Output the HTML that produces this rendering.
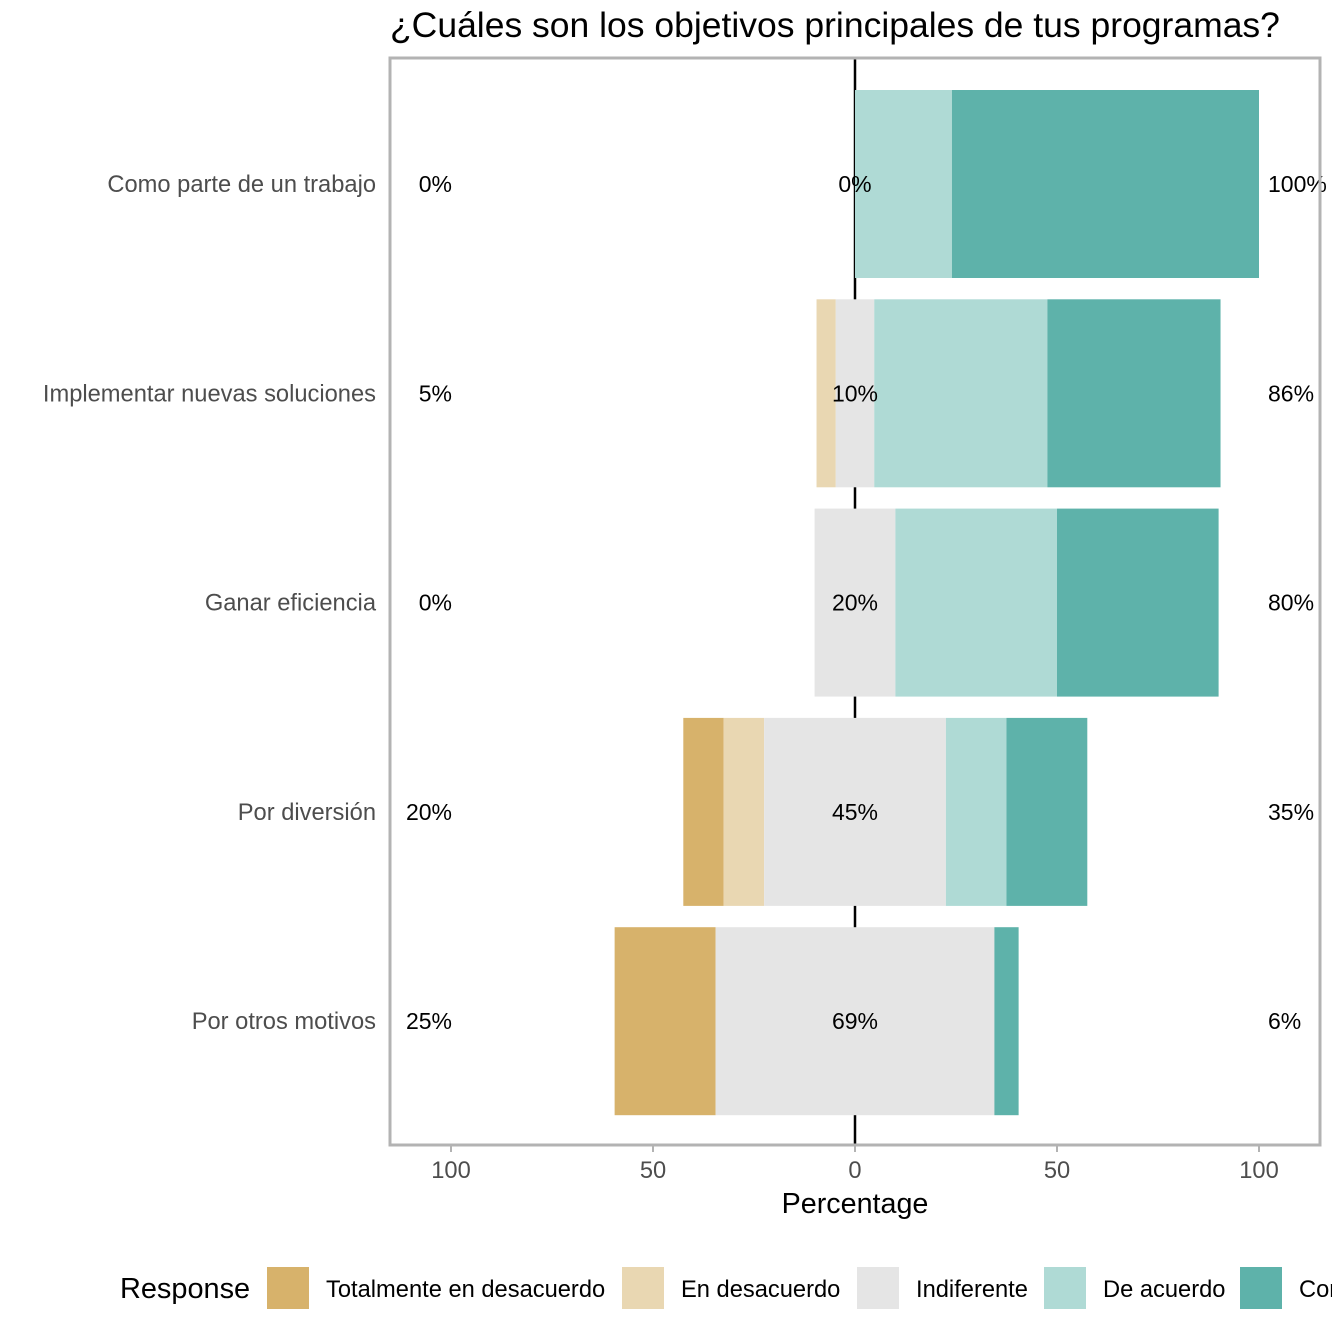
<!DOCTYPE html>
<html><head><meta charset="utf-8"><style>
body{margin:0;background:#fff;font-family:"Liberation Sans",sans-serif;}
svg{display:block}
</style></head><body>
<svg id="chart" width="1332" height="1329" viewBox="0 0 1332 1329">
<text x="390" y="37" font-size="35.5" fill="#000">¿Cuáles son los objetivos principales de tus programas?</text>
<g id="plot"></g>
</svg>
<script>
const categories=["Como parte de un trabajo","Implementar nuevas soluciones","Ganar eficiencia","Por diversión","Por otros motivos"];
const levels=["Totalmente en desacuerdo","En desacuerdo","Indiferente","De acuerdo","Completamente de acuerdo"];
const totDesac=[0,0,0,10,25];
const desac=[0,4.76,0,10,0];
const indif=[0,9.52,20,45,69];
const deAc=[24,42.86,40,15,0];
const totAc=[76,42.86,40,20,6];
const leftLabels=["0%","5%","0%","20%","25%"];
const midLabels=["0%","10%","20%","45%","69%"];
const rightLabels=["100%","86%","80%","35%","6%"];
const ticks=[-100,-50,0,50,100];
const colors=["#D7B26B","#E9D7B2","#E5E5E5","#AFDAD5","#5EB2AA"];
const NS="http://www.w3.org/2000/svg";
const g=document.getElementById('plot');
const PL=390,PR=1320,PT=58,PB=1145;
const x=v=>855+v*4.04;
const rowC=i=>184+i*209.3;
const BH=188;
function mk(t,a){const e=document.createElementNS(NS,t);for(const k in a)e.setAttribute(k,a[k]);g.appendChild(e);return e;}
ticks.concat([-75,-25,25,75]).forEach(t=>{const l=mk('line',{x1:x(t),x2:x(t),y1:PT,y2:PB,stroke:'#fff','stroke-width':1.5});
});
const z=mk('line',{x1:x(0),x2:x(0),y1:PT,y2:PB,stroke:'#000','stroke-width':2.5});

categories.forEach((c,i)=>{
  const vals=[totDesac[i],desac[i],indif[i],deAc[i],totAc[i]];
  let start=-(vals[0]+vals[1]+vals[2]/2);
  vals.forEach((v,j)=>{
    if(v>0){const r=mk('rect',{x:x(start),y:rowC(i)-BH/2,width:v*4.04,height:BH,fill:colors[j]});
    }
    start+=v;
  });
  const yl=mk('text',{x:376,y:rowC(i)+8,'font-size':23.7,fill:'#4d4d4d','text-anchor':'end'});yl.textContent=c;
  
  [[452,leftLabels[i],'end'],[855,midLabels[i],'middle'],[1268,rightLabels[i],'start']].forEach(([xx,s,a])=>{
    const t=mk('text',{x:xx,y:rowC(i)+8,'font-size':23,fill:'#000','text-anchor':a});t.textContent=s;
    });
});
const fr=mk('rect',{x:PL,y:PT,width:PR-PL,height:PB-PT,fill:'none',stroke:'#b3b3b3','stroke-width':3});

ticks.forEach(t=>{
  const l=mk('line',{x1:x(t),x2:x(t),y1:PB,y2:PB+7,stroke:'#b3b3b3','stroke-width':2});
  
  const tx=mk('text',{x:x(t),y:PB+33,'font-size':23.7,fill:'#4d4d4d','text-anchor':'middle'});tx.textContent=Math.abs(t);
  
});
const xt=mk('text',{x:855,y:1213,'font-size':28.7,fill:'#000','text-anchor':'middle'});xt.textContent='Percentage';

const lt=mk('text',{x:120,y:1298,'font-size':28.9,fill:'#000'});lt.textContent='Response';

const lx=[267,622,857,1044,1240];
levels.forEach((s,j)=>{
  const r=mk('rect',{x:lx[j],y:1267,width:42,height:42,fill:colors[j]});
  
  const t=mk('text',{x:lx[j]+59,y:1297,'font-size':23.7,fill:'#000'});t.textContent=s;
  
});
</script>
</body></html>
